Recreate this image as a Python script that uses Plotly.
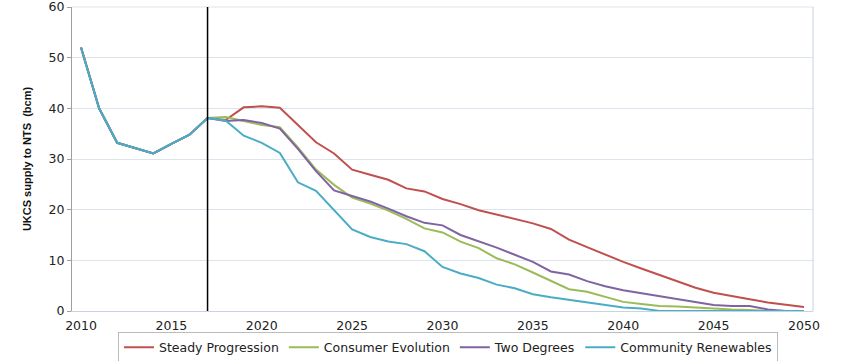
import plotly.graph_objects as go

years = list(range(2010, 2051))

history = [52.0, 40.0, 33.2, 32.1, 31.1, 33.0, 34.8, 38.1]

steady_progression = history + [
    37.7, 40.2, 40.4, 40.1, 36.7, 33.3, 31.1, 27.9, 26.9, 25.9,
    24.2, 23.6, 22.1, 21.1, 19.9, 19.0, 18.2, 17.3, 16.2, 14.1,
    12.6, 11.1, 9.7, 8.4, 7.1, 5.8, 4.6, 3.6, 2.9, 2.3,
    1.7, 1.2, 0.8]
consumer_evolution = history + [
    38.3, 37.5, 36.7, 36.3, 32.3, 27.9, 24.9, 22.4, 21.2, 19.8,
    18.2, 16.3, 15.5, 13.7, 12.4, 10.4, 9.2, 7.6, 5.9, 4.3,
    3.8, 2.8, 1.8, 1.4, 1.0, 0.9, 0.7, 0.4, 0.3, 0.2,
    0.0, 0.0, 0.0]
two_degrees = history + [
    37.5, 37.7, 37.1, 36.0, 32.0, 27.6, 23.8, 22.7, 21.6, 20.2,
    18.7, 17.4, 16.9, 15.0, 13.8, 12.5, 11.1, 9.7, 7.8, 7.2,
    5.9, 4.9, 4.1, 3.5, 3.0, 2.3, 1.7, 1.2, 1.0, 1.0,
    0.3, 0.0, 0.0]
community_renewables = history + [
    37.6, 34.6, 33.2, 31.2, 25.4, 23.7, 19.9, 16.1, 14.6, 13.7,
    13.2, 11.8, 8.7, 7.4, 6.5, 5.2, 4.5, 3.3, 2.7, 2.2,
    1.6, 1.2, 0.7, 0.5, 0.0, 0.0, 0.0, 0.0, 0.0, 0.0,
    0.0, 0.0, 0.0]

series_names = ["Steady Progression", "Consumer Evolution", "Two Degrees", "Community Renewables"]
series_values = [steady_progression, consumer_evolution, two_degrees, community_renewables]
series_colors = ["#C0504D", "#9BBB59", "#8064A2", "#4BACC6"]

x_ticks = [2010, 2015, 2020, 2025, 2030, 2035, 2040, 2045, 2050]
y_ticks = [0, 10, 20, 30, 40, 50, 60]
divider_year = 2017

fig = go.Figure()
for name, vals, col in zip(series_names, series_values, series_colors):
    fig.add_trace(go.Scatter(x=years, y=vals, mode="lines", name=name,
                             line=dict(color=col, width=2)))

fig.add_shape(type="line", xref="x", yref="y", x0=divider_year, x1=divider_year,
              y0=0, y1=60, line=dict(color="black", width=1.5))

fig.update_layout(
    width=850, height=361,
    margin=dict(l=72, r=37, t=7, b=50, autoexpand=False),
    paper_bgcolor="white", plot_bgcolor="white",
    font=dict(family="DejaVu Sans", size=12, color="#222"),
    showlegend=True,
    legend=dict(orientation="h", xref="container", yref="container",
                x=0.527, xanchor="center", y=0.037, yanchor="middle",
                bordercolor="#BBBBBB", borderwidth=1,
                font=dict(family="DejaVu Sans", size=12.5, color="#222"),
                itemwidth=30, tracegroupgap=0, traceorder="normal"),
)
fig.update_xaxes(range=[2009.5, 2050.5], tickvals=x_ticks, showgrid=False,
                 showline=True, linecolor="#C8D2E0", linewidth=1, mirror=False,
                 ticks="", ticklabelstandoff=3,
                 tickfont=dict(family="DejaVu Sans", size=12.5), zeroline=False)
fig.update_yaxes(range=[0, 60], tickvals=y_ticks, showgrid=True, gridcolor="#DDE3EC",
                 gridwidth=1, showline=True, linecolor="#A0A0A0", linewidth=1,
                 ticks="outside", ticklen=4, tickcolor="#A0A0A0", zeroline=False,
                 ticklabeloverflow="allow",
                 tickfont=dict(family="DejaVu Sans", size=12.5),
                 title=dict(text="<b>UKCS supply to NTS  (bcm)</b>",
                            font=dict(family="Liberation Sans", size=11, color="#111"),
                            standoff=14))
# right and top frame lines
fig.add_shape(type="line", xref="paper", yref="paper", x0=1, x1=1, y0=0, y1=1,
              line=dict(color="#C8D2E0", width=1))
fig.add_shape(type="line", xref="paper", yref="paper", x0=0, x1=1, y0=1, y1=1,
              line=dict(color="#DDE3EC", width=1), layer="below")

fig.write_html("out.html", config={"displayModeBar": False},
               post_script="document.body.style.margin='0';document.body.style.overflow='hidden';")
